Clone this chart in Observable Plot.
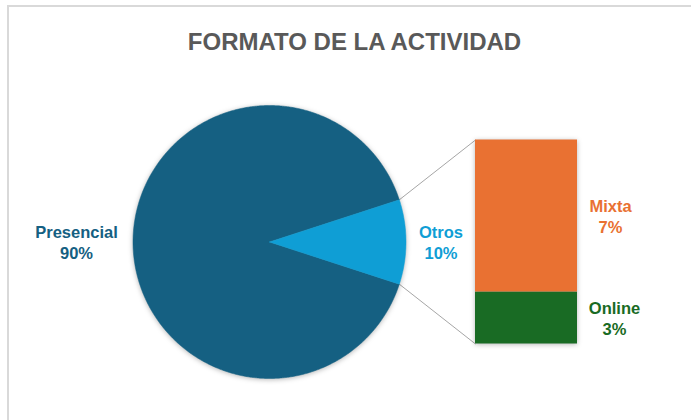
<!DOCTYPE html>
<html>
<head>
<meta charset="utf-8">
<script src="https://cdn.jsdelivr.net/npm/d3@7"></script>
<script src="https://cdn.jsdelivr.net/npm/@observablehq/plot@0.6"></script>
<style>
  html, body { margin: 0; padding: 0; background: #fff; }
  #wrap { position: relative; width: 691px; height: 420px; overflow: hidden; background: #fff; }
  #frame { position: absolute; left: 7px; top: 5px; width: 800px; height: 600px; border: 2px solid #d9d9d9; box-sizing: border-box; }
  #chart { position: absolute; left: 0; top: 0; }
</style>
</head>
<body>
<div id="wrap"><div id="frame"></div><div id="chart"></div></div>
<script>
// ---- data ----
const title = "FORMATO DE LA ACTIVIDAD";
const categories = ["Presencial", "Otros"];
const shares = [90, 10];
const subCategories = ["Mixta", "Online"];
const subShares = [7.45, 2.55];
const pieColors = ["#156082", "#0F9ED5"];
const subColors = ["#E97132", "#196B24"];

// ---- layout (pixels) ----
const W = 691, H = 420;
const R = 136.5, CX = 269, CY = 241.5;
const barLeftPx = 475, barRightPx = 577, barHalfPx = 102;
const font = "'Liberation Sans', Arial, sans-serif";

// unit coordinate system: pie radius = 1
const xDomain = [-CX / R, (W - CX) / R];
const yDomain = [-(H - CY) / R, CY / R];
const barX1 = (barLeftPx - CX) / R, barX2 = (barRightPx - CX) / R;
const barHalf = barHalfPx / R;

// pie slices: "Otros" centred on the right (angle 0)
const total = d3.sum(shares);
const otrosSpan = shares[1] / total * 2 * Math.PI;
const sliceAngles = [
  [otrosSpan / 2, 2 * Math.PI - otrosSpan / 2],
  [-otrosSpan / 2, otrosSpan / 2]
];
const pieRows = [];
categories.forEach((c, i) => {
  const [a0, a1] = sliceAngles[i];
  pieRows.push({cat: c, x: 0, y: 0});
  const n = Math.max(4, Math.ceil((a1 - a0) / (Math.PI / 360)));
  for (let k = 0; k <= n; k++) {
    const a = a0 + (a1 - a0) * k / n;
    pieRows.push({cat: c, x: Math.cos(a), y: Math.sin(a)});
  }
  pieRows.push({cat: c, x: 0, y: 0});
});

// bar of "Otros": stacked, Online at bottom, Mixta on top
const subTotal = d3.sum(subShares);
const barRows = [];
let acc = 0;
[1, 0].forEach(i => {
  const y1 = -barHalf + acc / subTotal * 2 * barHalf;
  acc += subShares[i];
  const y2 = -barHalf + acc / subTotal * 2 * barHalf;
  barRows.push({cat: subCategories[i], share: subShares[i], x1: barX1, x2: barX2, y1, y2, ym: (y1 + y2) / 2});
});

const edgeA = otrosSpan / 2;
const links = [
  {x1: Math.cos(edgeA), y1: Math.sin(edgeA), x2: barX1, y2: barHalf},
  {x1: Math.cos(edgeA), y1: -Math.sin(edgeA), x2: barX1, y2: -barHalf}
];

const pieLabels = categories.map((c, i) => ({cat: c, share: shares[i], x: Math.cos((sliceAngles[i][0] + sliceAngles[i][1]) / 2), y: 0}));

const labelStyle = {fontSize: 16.5, fontWeight: "bold", fontFamily: font, lineHeight: 1.28, textAnchor: "middle"};
const fmt = d => `${d.cat}\n${Math.round(d.share)}%`;

const plot = Plot.plot({
  width: W, height: H,
  margin: 0,
  x: {domain: xDomain, axis: null},
  y: {domain: yDomain, axis: null},
  color: {domain: [...categories, ...subCategories], range: [...pieColors, ...subColors]},
  style: {background: "transparent", fontFamily: font},
  marks: [
    Plot.link(links, {x1: "x1", y1: "y1", x2: "x2", y2: "y2", stroke: "#a6a6a6", strokeWidth: 1}),
    Plot.line(pieRows, {x: "x", y: "y", z: "cat", fill: "cat", stroke: "cat", strokeWidth: 0.5, curve: "linear"}),
    Plot.rect(barRows, {x1: "x1", x2: "x2", y1: "y1", y2: "y2", fill: "cat"}),
    Plot.text(pieLabels.filter(d => d.cat === "Presencial"), {x: "x", y: "y", text: fmt, fill: "cat", dx: -56.5, ...labelStyle}),
    Plot.text(pieLabels.filter(d => d.cat === "Otros"), {x: "x", y: "y", text: fmt, fill: "cat", dx: 35, ...labelStyle}),
    Plot.text(barRows.filter(d => d.cat === "Mixta"), {x: "x2", y: "ym", text: fmt, fill: "cat", dx: 33, ...labelStyle}),
    Plot.text(barRows.filter(d => d.cat === "Online"), {x: "x2", y: "ym", text: fmt, fill: "cat", dx: 37, ...labelStyle}),
    Plot.text([title], {frameAnchor: "top", lineAnchor: "top", text: d => d, dx: 8.5, dy: 32, fontSize: 24, fontWeight: "bold", fill: "#595959", fontFamily: font})
  ]
});

d3.select(plot).selectAll('g[aria-label="line"], g[aria-label="rect"]')
  .style("filter", "drop-shadow(0px 1px 2.5px rgba(0,0,0,0.28))");

document.getElementById("chart").appendChild(plot);
</script>
</body>
</html>
